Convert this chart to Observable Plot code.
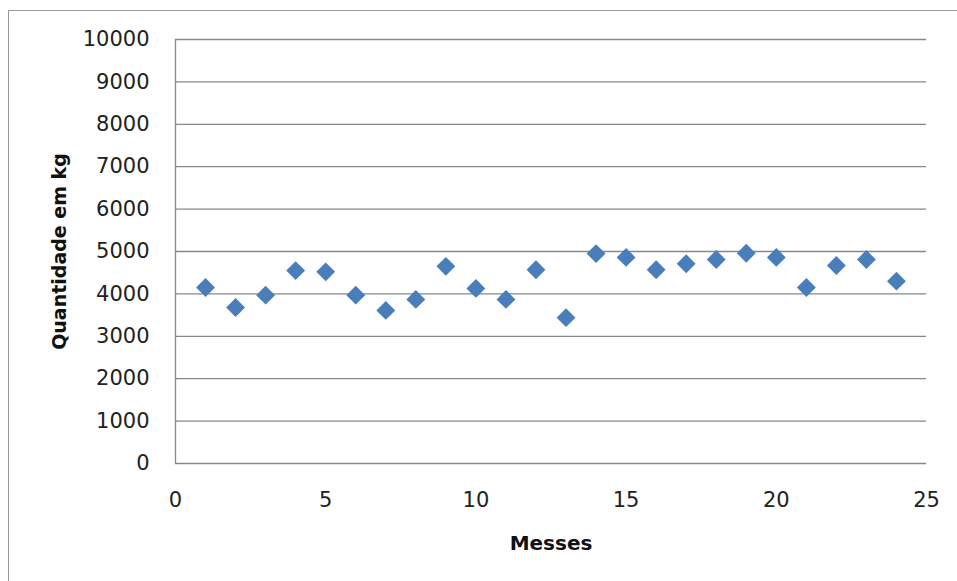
<!DOCTYPE html>
<html><head><meta charset="utf-8">
<script src="https://cdn.jsdelivr.net/npm/d3@7"></script>
<script src="https://cdn.jsdelivr.net/npm/@observablehq/plot@0.6"></script>
<style>
html,body{margin:0;padding:0;background:#fff;overflow:hidden}
#wrap{position:relative;width:957px;height:581px;overflow:hidden}
#border{position:absolute;left:8px;top:10px;width:2000px;height:2000px;border-left:1.5px solid #9a9a9a;border-top:1.5px solid #9a9a9a;}
#chart{position:absolute;left:0;top:0}
g[aria-label="y-axis label"], g[aria-label="x-axis label"]{font-weight:bold;fill:#111}
g[aria-label="y-axis label"]{font-size:19px}
g[aria-label="x-axis label"]{font-size:20px}
</style></head><body>
<div id="wrap"><div id="border"></div><div id="chart"></div></div>
<script>
const months = [1,2,3,4,5,6,7,8,9,10,11,12,13,14,15,16,17,18,19,20,21,22,23,24];
const quantities = [4150,3680,3970,4550,4520,3970,3610,3870,4650,4130,3870,4570,3440,4950,4860,4570,4710,4810,4960,4860,4150,4670,4810,4300];
const xTicks = [0,5,10,15,20,25];
const yTicks = [0,1000,2000,3000,4000,5000,6000,7000,8000,9000,10000];
const xLabel = "Messes";
const yLabel = "Quantidade em kg";

const data = months.map((m,i)=>({mes:m, qtd:quantities[i]}));

const chart = Plot.plot({
  width:957, height:581,
  marginLeft:175, marginRight:31, marginTop:39, marginBottom:118,
  x:{domain:[0,25]},
  y:{domain:[0,10000]},
  style:{fontFamily:"DejaVu Sans", fontSize:"21px", background:"transparent", color:"#222"},
  marks:[
    Plot.ruleY(yTicks,{stroke:"#878787", strokeWidth:1.3}),
    Plot.ruleX([0],{stroke:"#878787", strokeWidth:1.3}),
    Plot.axisY({ticks:yTicks, tickSize:0, tickPadding:26, tickFormat:d=>String(d), fontSize:21, fill:"#222",
      label:yLabel, labelAnchor:"center", labelArrow:"none", labelOffset:123}),
    Plot.axisX({ticks:xTicks, tickSize:0, tickPadding:29, tickFormat:d=>String(d), fontSize:21, fill:"#222",
      label:xLabel, labelAnchor:"center", labelArrow:"none", labelOffset:86}),
    Plot.dot(data,{x:"mes", y:"qtd", symbol:"diamond2", r:8.5, fill:"#4a7ebb", stroke:"none"})
  ]
});
document.getElementById("chart").appendChild(chart);
</script>
</body></html>
